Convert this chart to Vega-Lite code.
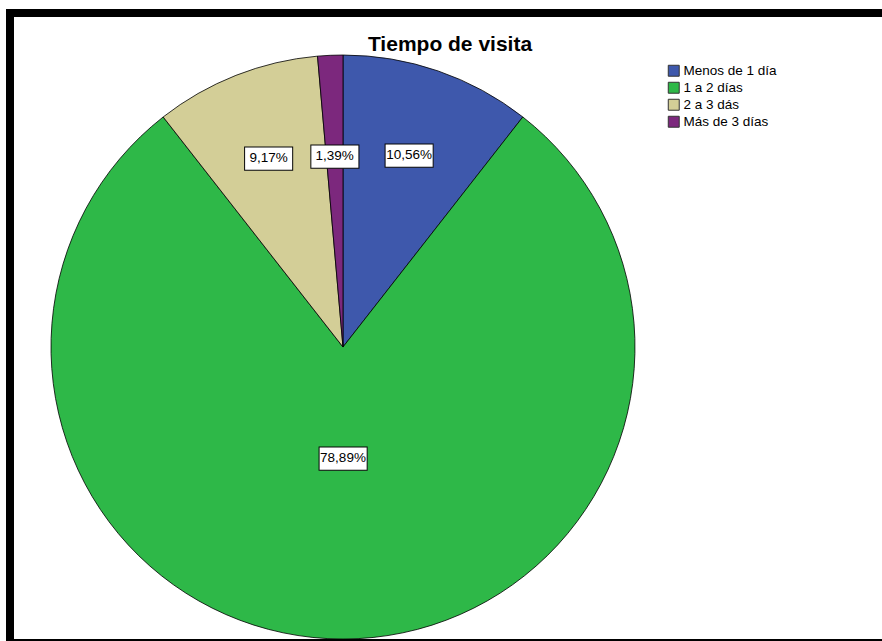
{
  "$schema": "https://vega.github.io/schema/vega-lite/v6.json",
  "width": 880,
  "height": 630,
  "autosize": "none",
  "padding": {"left": 10, "top": 13, "right": 0, "bottom": 0},
  "background": "white",
  "config": {"view": {"stroke": null}},
  "title": {
    "text": "Tiempo de visita",
    "font": "Liberation Sans",
    "fontSize": 21,
    "fontWeight": "bold",
    "color": "black",
    "anchor": "middle",
    "frame": "group",
    "offset": -46
  },
  "data": {
    "values": [
      {"categoria": "Menos de 1 día", "porcentaje": 10.56, "etiqueta": "10,56%", "orden": 1},
      {"categoria": "1 a 2 días", "porcentaje": 78.89, "etiqueta": "78,89%", "orden": 2},
      {"categoria": "2 a 3 dás", "porcentaje": 9.17, "etiqueta": "9,17%", "orden": 3},
      {"categoria": "Más de 3 días", "porcentaje": 1.39, "etiqueta": "1,39%", "orden": 4}
    ]
  },
  "layer": [
    {
      "mark": {
        "type": "arc",
        "outerRadius": 292,
        "stroke": "black",
        "strokeWidth": 0.8,
        "x": {"expr": "width * 0.3784"},
        "y": {"expr": "height * 0.5302"}
      },
      "encoding": {
        "theta": {"field": "porcentaje", "type": "quantitative", "stack": true},
        "order": {"field": "orden", "type": "quantitative"},
        "color": {
          "field": "categoria",
          "type": "nominal",
          "sort": ["Menos de 1 día", "1 a 2 días", "2 a 3 dás", "Más de 3 días"],
          "scale": {
            "domain": ["Menos de 1 día", "1 a 2 días", "2 a 3 dás", "Más de 3 días"],
            "range": ["#3E58AC", "#2EB848", "#D3CE97", "#7C287D"]
          },
          "legend": {
            "title": null,
            "orient": "none",
            "legendX": 657,
            "legendY": 51,
            "labelFont": "Liberation Sans",
            "labelFontSize": 13.5,
            "labelColor": "black",
            "symbolType": "square",
            "symbolSize": 120,
            "symbolStrokeColor": "#333333",
            "symbolStrokeWidth": 1,
            "symbolOpacity": 1,
            "rowPadding": 1,
            "labelOffset": 3
          }
        }
      }
    },
    {
      "mark": {
        "type": "text",
        "text": "▬",
        "font": "DejaVu Sans",
        "fontSize": 63,
        "align": "center",
        "baseline": "middle",
        "dy": -2,
        "fill": "white",
        "stroke": "black",
        "strokeWidth": 1,
        "radius": {"expr": "datum.porcentaje > 50 ? 111 : (datum.porcentaje < 5 ? 191 : 203)"},
        "x": {"expr": "width * 0.3784"},
        "y": {"expr": "height * 0.5302"}
      },
      "encoding": {
        "theta": {"field": "porcentaje", "type": "quantitative", "stack": true},
        "order": {"field": "orden", "type": "quantitative"}
      }
    },
    {
      "mark": {
        "type": "text",
        "font": "Liberation Sans",
        "fontSize": 13.5,
        "align": "center",
        "baseline": "middle",
        "fill": "black",
        "radius": {"expr": "datum.porcentaje > 50 ? 111 : (datum.porcentaje < 5 ? 191 : 203)"},
        "x": {"expr": "width * 0.3784"},
        "y": {"expr": "height * 0.5302"}
      },
      "encoding": {
        "theta": {"field": "porcentaje", "type": "quantitative", "stack": true},
        "order": {"field": "orden", "type": "quantitative"},
        "text": {"field": "etiqueta"}
      }
    },
    {
      "data": {"values": [{"marco": "borde"}]},
      "mark": {
        "type": "rect",
        "fill": null,
        "stroke": "black",
        "strokeWidth": 8,
        "x": 0,
        "y": 0,
        "x2": {"expr": "width"},
        "y2": {"expr": "height"}
      },
      "encoding": {}
    }
  ]
}
